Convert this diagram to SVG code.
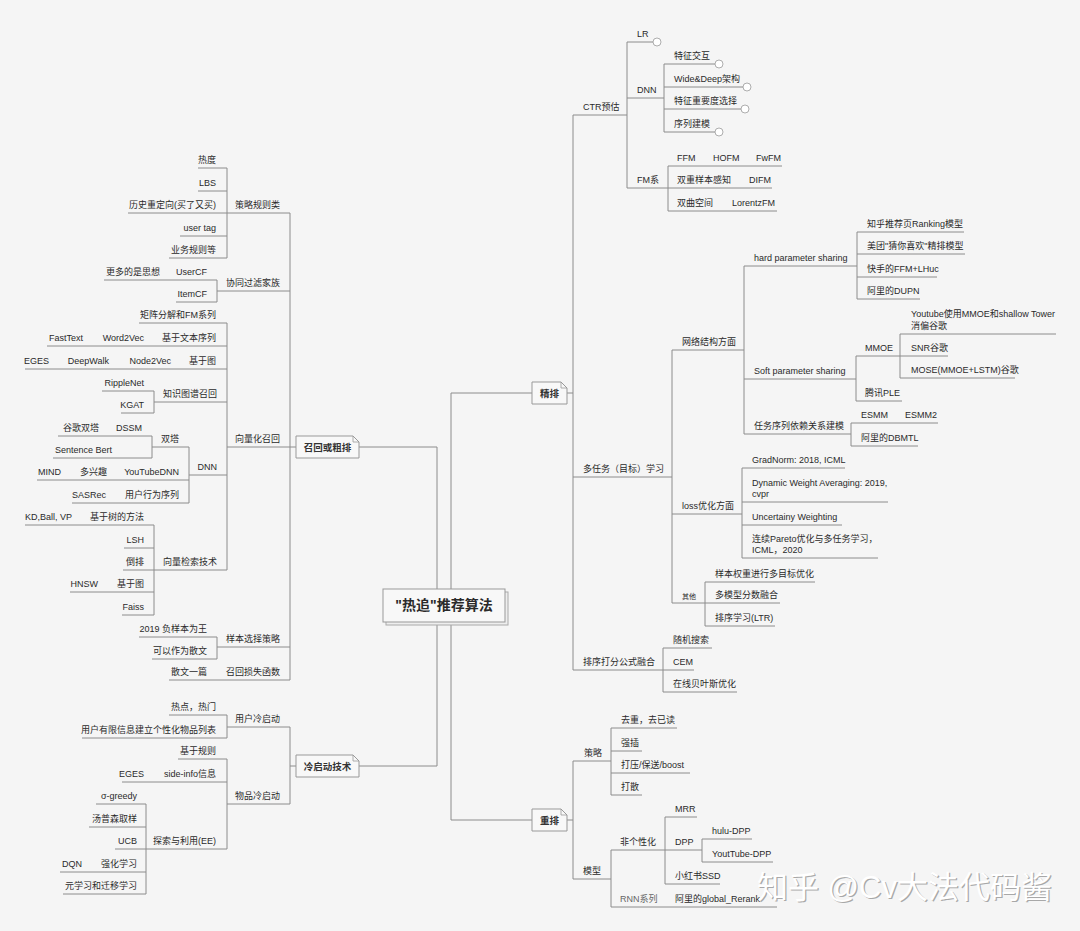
<svg xmlns="http://www.w3.org/2000/svg" width="1080" height="931" viewBox="0 0 1080 931">
<style>
text{font-family:"Liberation Sans","Noto Sans CJK SC",sans-serif;font-size:9px;fill:#2a2a2a}
.l{text-anchor:end}
.m{text-anchor:middle}
.ln{fill:none;stroke:#8c8c8c;stroke-width:1}
.box{fill:#f8f8f8;stroke:#999;stroke-width:1}
.fold{fill:none;stroke:#999;stroke-width:0.8}
.c{fill:#fff;stroke:#999;stroke-width:0.8}
.bt{font-size:9.5px;font-weight:bold;fill:#333}
.wm{font-size:31px;fill:#fff}
.wms{font-size:31px;fill:#a8a8a8}
</style>
<rect width="1080" height="931" fill="#f5f5f5"/>
<g id="connectors" class="ln">
<path d="M227,168V258M217,280V302M227,323V570M154,391V413M152,436V458M189,447V503M154,525V615M217,637V659M290,213V680M290,447H296M359,447H437V589"/>
<path d="M227,715V738M227,759V849M146,804V894M290,727V804M290,766H296M359,766H437V622"/>
<path d="M451,589V393H532M451,622V820H532M567,393H573M573,115V670M627,42V188M664,64V132M668,166V211M672,350V603M744,266V434M857,232V299M856,356V401M900,334V378M851,423V446M742,468V558M705,582V626M663,648V692"/>
<path d="M567,820H573M573,761V879M611,728V795M611,850V907M665,817V884M702,839V862"/>
</g>
<g id="root">
<rect x="386" y="592" width="122" height="33" fill="#eee" stroke="#aaa"/>
<rect x="383" y="589" width="122" height="33" class="box"/>
<text x="444" y="610" class="m" style="font-size:14px;font-weight:bold">"热追"推荐算法</text>
</g>
<g id="recall">
<path class="box" d="M296,436H353L359,442V458H296Z"/><path class="fold" d="M353,436V442H359"/>
<text x="327.5" y="450.5" class="m bt">召回或粗排</text>
</g>
<g id="coldstart">
<path class="box" d="M296,755H353L359,761V777H296Z"/><path class="fold" d="M353,755V761H359"/>
<text x="327.5" y="769.5" class="m bt">冷启动技术</text>
</g>
<g id="fine">
<path class="box" d="M532,382H561L567,388V404H532Z"/><path class="fold" d="M561,382V388H567"/>
<text x="549.5" y="396.5" class="m bt">精排</text>
</g>
<g id="rerank">
<path class="box" d="M532,809H561L567,815V831H532Z"/><path class="fold" d="M561,809V815H567"/>
<text x="549.5" y="823.5" class="m bt">重排</text>
</g>
<!-- left: recall -->
<g id="n-rule"><text x="280" y="208" class="l">策略规则类</text><path class="ln" d="M227,213H290"/></g>
<g id="n-hot"><text x="216" y="163" class="l">热度</text><path class="ln" d="M198,168H227"/></g>
<g id="n-lbs"><text x="216" y="186" class="l">LBS</text><path class="ln" d="M198,191H227"/></g>
<g id="n-hist"><text x="216" y="208" class="l">历史重定向(买了又买)</text><path class="ln" d="M128,213H227"/></g>
<g id="n-usertag"><text x="216" y="231" class="l">user tag</text><path class="ln" d="M180,236H227"/></g>
<g id="n-biz"><text x="216" y="253" class="l">业务规则等</text><path class="ln" d="M169,258H227"/></g>
<g id="n-cf"><text x="280" y="286" class="l">协同过滤家族</text><path class="ln" d="M217,291H290"/></g>
<g id="n-usercf"><text x="207" y="275" class="l">UserCF</text><path class="ln" d="M176,280H217"/></g>
<g id="n-idea"><text x="160" y="275" class="l">更多的是思想</text><path class="ln" d="M104,280H176"/></g>
<g id="n-itemcf"><text x="207" y="297" class="l">ItemCF</text><path class="ln" d="M176,302H217"/></g>
<g id="n-vec"><text x="280" y="442" class="l">向量化召回</text><path class="ln" d="M227,447H290"/></g>
<g id="n-mf"><text x="216" y="318" class="l">矩阵分解和FM系列</text><path class="ln" d="M139,323H227"/></g>
<g id="n-textseq"><text x="216" y="341" class="l">基于文本序列</text><path class="ln" d="M154,346H227"/></g>
<g id="n-w2v"><text x="144" y="341" class="l">Word2Vec</text><path class="ln" d="M93,346H154"/></g>
<g id="n-fasttext"><text x="83" y="341" class="l">FastText</text><path class="ln" d="M47,346H93"/></g>
<g id="n-graph1"><text x="216" y="364" class="l">基于图</text><path class="ln" d="M181,369H227"/></g>
<g id="n-n2v"><text x="171" y="364" class="l">Node2Vec</text><path class="ln" d="M119,369H181"/></g>
<g id="n-deepwalk"><text x="109" y="364" class="l">DeepWalk</text><path class="ln" d="M59,369H119"/></g>
<g id="n-eges1"><text x="49" y="364" class="l">EGES</text><path class="ln" d="M25,369H59"/></g>
<g id="n-kg"><text x="217" y="397" class="l">知识图谱召回</text><path class="ln" d="M154,402H227"/></g>
<g id="n-ripple"><text x="144" y="386" class="l">RippleNet</text><path class="ln" d="M102,391H154"/></g>
<g id="n-kgat"><text x="144" y="408" class="l">KGAT</text><path class="ln" d="M121,413H154"/></g>
<g id="n-dnn"><text x="217" y="470" class="l">DNN</text><path class="ln" d="M189,475H227"/></g>
<g id="n-twotower"><text x="179" y="442" class="l">双塔</text><path class="ln" d="M152,447H189"/></g>
<g id="n-dssm"><text x="142" y="431" class="l">DSSM</text><path class="ln" d="M108,436H152"/></g>
<g id="n-google"><text x="99" y="431" class="l">谷歌双塔</text><path class="ln" d="M58,436H108"/></g>
<g id="n-sbert"><text x="112" y="453" class="l">Sentence Bert</text><path class="ln" d="M53,458H152"/></g>
<g id="n-ytdnn"><text x="179" y="475" class="l">YouTubeDNN</text><path class="ln" d="M117,480H189"/></g>
<g id="n-multi"><text x="107" y="475" class="l">多兴趣</text><path class="ln" d="M72,480H117"/></g>
<g id="n-mind"><text x="61" y="475" class="l">MIND</text><path class="ln" d="M37,480H72"/></g>
<g id="n-behav"><text x="179" y="498" class="l">用户行为序列</text><path class="ln" d="M117,503H189"/></g>
<g id="n-sasrec"><text x="106" y="498" class="l">SASRec</text><path class="ln" d="M72,503H117"/></g>
<g id="n-search"><text x="217" y="565" class="l">向量检索技术</text><path class="ln" d="M154,570H227"/></g>
<g id="n-tree"><text x="144" y="520" class="l">基于树的方法</text><path class="ln" d="M82,525H154"/></g>
<g id="n-kd"><text x="72" y="520" class="l">KD,Ball, VP</text><path class="ln" d="M25,525H82"/></g>
<g id="n-lsh"><text x="144" y="543" class="l">LSH</text><path class="ln" d="M124,548H154"/></g>
<g id="n-inv"><text x="144" y="565" class="l">倒排</text><path class="ln" d="M123,570H154"/></g>
<g id="n-graph2"><text x="144" y="587" class="l">基于图</text><path class="ln" d="M108,592H154"/></g>
<g id="n-hnsw"><text x="98" y="587" class="l">HNSW</text><path class="ln" d="M70,592H108"/></g>
<g id="n-faiss"><text x="144" y="610" class="l">Faiss</text><path class="ln" d="M122,615H154"/></g>
<g id="n-sample"><text x="280" y="642" class="l">样本选择策略</text><path class="ln" d="M217,647H290"/></g>
<g id="n-neg"><text x="207" y="632" class="l">2019 负样本为王</text><path class="ln" d="M139,637H217"/></g>
<g id="n-essay"><text x="207" y="654" class="l">可以作为散文</text><path class="ln" d="M152,659H217"/></g>
<g id="n-loss"><text x="280" y="675" class="l">召回损失函数</text><path class="ln" d="M217,680H290"/></g>
<g id="n-essay2"><text x="207" y="675" class="l">散文一篇</text><path class="ln" d="M169,680H217"/></g>
<!-- left: cold start -->
<g id="n-usercold"><text x="280" y="722" class="l">用户冷启动</text><path class="ln" d="M227,727H290"/></g>
<g id="n-hotpt"><text x="216" y="710" class="l">热点，热门</text><path class="ln" d="M169,715H227"/></g>
<g id="n-limited"><text x="216" y="733" class="l">用户有限信息建立个性化物品列表</text><path class="ln" d="M82,738H227"/></g>
<g id="n-itemcold"><text x="280" y="799" class="l">物品冷启动</text><path class="ln" d="M227,804H290"/></g>
<g id="n-rules"><text x="216" y="754" class="l">基于规则</text><path class="ln" d="M178,759H227"/></g>
<g id="n-side"><text x="216" y="777" class="l">side-info信息</text><path class="ln" d="M154,782H227"/></g>
<g id="n-eges2"><text x="144" y="777" class="l">EGES</text><path class="ln" d="M122,782H154"/></g>
<g id="n-ee"><text x="216" y="844" class="l">探索与利用(EE)</text><path class="ln" d="M146,849H227"/></g>
<g id="n-greedy"><text x="137" y="799" class="l">σ-greedy</text><path class="ln" d="M96,804H146"/></g>
<g id="n-thompson"><text x="137" y="822" class="l">汤普森取样</text><path class="ln" d="M89,827H146"/></g>
<g id="n-ucb"><text x="137" y="844" class="l">UCB</text><path class="ln" d="M115,849H146"/></g>
<g id="n-rl"><text x="137" y="867" class="l">强化学习</text><path class="ln" d="M92,872H146"/></g>
<g id="n-dqn"><text x="82" y="867" class="l">DQN</text><path class="ln" d="M60,872H92"/></g>
<g id="n-meta"><text x="137" y="889" class="l">元学习和迁移学习</text><path class="ln" d="M63,894H146"/></g>
<!-- right: fine ranking -->
<g id="n-ctr"><text x="583" y="110">CTR预估</text><path class="ln" d="M573,115H627"/></g>
<g id="n-lr"><text x="637" y="37">LR</text><path class="ln" d="M627,42H653"/><circle class="c" cx="657" cy="42" r="4"/></g>
<g id="n-dnn2"><text x="637" y="93">DNN</text><path class="ln" d="M627,98H664"/></g>
<g id="n-fi"><text x="674" y="59">特征交互</text><path class="ln" d="M664,64H715"/><circle class="c" cx="719" cy="64" r="4"/></g>
<g id="n-wd"><text x="674" y="82">Wide&amp;Deep架构</text><path class="ln" d="M664,87H743"/><circle class="c" cx="747" cy="87" r="4"/></g>
<g id="n-fimp"><text x="674" y="104">特征重要度选择</text><path class="ln" d="M664,109H741"/><circle class="c" cx="745" cy="109" r="4"/></g>
<g id="n-seq"><text x="674" y="127">序列建模</text><path class="ln" d="M664,132H715"/><circle class="c" cx="719" cy="132" r="4"/></g>
<g id="n-fm"><text x="637" y="183">FM系</text><path class="ln" d="M627,188H668"/></g>
<g id="n-ffm"><text x="677" y="161">FFM</text><path class="ln" d="M668,166H703"/></g>
<g id="n-hofm"><text x="713" y="161">HOFM</text><path class="ln" d="M703,166H746"/></g>
<g id="n-fwfm"><text x="756" y="161">FwFM</text><path class="ln" d="M746,166H782"/></g>
<g id="n-dual"><text x="677" y="183">双重样本感知</text><path class="ln" d="M668,188H739"/></g>
<g id="n-difm"><text x="749" y="183">DIFM</text><path class="ln" d="M739,188H772"/></g>
<g id="n-hyper"><text x="677" y="206">双曲空间</text><path class="ln" d="M668,211H722"/></g>
<g id="n-lorentz"><text x="732" y="206">LorentzFM</text><path class="ln" d="M722,211H777"/></g>
<g id="n-mtl"><text x="583" y="472">多任务（目标）学习</text><path class="ln" d="M573,477H672"/></g>
<g id="n-net"><text x="682" y="345">网络结构方面</text><path class="ln" d="M672,350H744"/></g>
<g id="n-hard"><text x="754" y="261">hard parameter sharing</text><path class="ln" d="M744,266H857"/></g>
<g id="n-zhihu"><text x="867" y="227">知乎推荐页Ranking模型</text><path class="ln" d="M857,232H964"/></g>
<g id="n-meituan"><text x="867" y="249">美团"猜你喜欢"精排模型</text><path class="ln" d="M857,254H965"/></g>
<g id="n-kuaishou"><text x="867" y="272">快手的FFM+LHuc</text><path class="ln" d="M857,277H937"/></g>
<g id="n-dupn"><text x="867" y="294">阿里的DUPN</text><path class="ln" d="M857,299H920"/></g>
<g id="n-soft"><text x="754" y="374">Soft parameter sharing</text><path class="ln" d="M744,379H856"/></g>
<g id="n-mmoe"><text x="865" y="351">MMOE</text><path class="ln" d="M856,356H900"/></g>
<g id="n-yt"><text x="911" y="317">Youtube使用MMOE和shallow Tower</text><text x="911" y="329">消偏谷歌</text><path class="ln" d="M900,334H1056"/></g>
<g id="n-snr"><text x="911" y="351">SNR谷歌</text><path class="ln" d="M900,356H948"/></g>
<g id="n-mose"><text x="911" y="373">MOSE(MMOE+LSTM)谷歌</text><path class="ln" d="M900,378H1015"/></g>
<g id="n-ple"><text x="865" y="396">腾讯PLE</text><path class="ln" d="M856,401H902"/></g>
<g id="n-dep"><text x="754" y="429">任务序列依赖关系建模</text><path class="ln" d="M744,434H851"/></g>
<g id="n-esmm"><text x="861" y="418">ESMM</text><path class="ln" d="M851,423H895"/></g>
<g id="n-esmm2"><text x="905" y="418">ESMM2</text><path class="ln" d="M895,423H938"/></g>
<g id="n-dbmtl"><text x="861" y="441">阿里的DBMTL</text><path class="ln" d="M851,446H918"/></g>
<g id="n-lossopt"><text x="682" y="509">loss优化方面</text><path class="ln" d="M672,514H742"/></g>
<g id="n-gradnorm"><text x="752" y="463">GradNorm: 2018, ICML</text><path class="ln" d="M742,468H845"/></g>
<g id="n-dwa"><text x="752" y="485.5">Dynamic Weight Averaging: 2019,</text><text x="752" y="497">cvpr</text><path class="ln" d="M742,502H888"/></g>
<g id="n-unc"><text x="752" y="520">Uncertainy Weighting</text><path class="ln" d="M742,525H842"/></g>
<g id="n-pareto"><text x="752" y="541.5">连续Pareto优化与多任务学习，</text><text x="752" y="553">ICML，2020</text><path class="ln" d="M742,558H878"/></g>
<g id="n-other"><text x="682" y="599" style="font-size:7px">其他</text><path class="ln" d="M672,603H705"/></g>
<g id="n-weight"><text x="715" y="577">样本权重进行多目标优化</text><path class="ln" d="M705,582H815"/></g>
<g id="n-fuse"><text x="715" y="598">多模型分数融合</text><path class="ln" d="M705,603H780"/></g>
<g id="n-ltr"><text x="715" y="621">排序学习(LTR)</text><path class="ln" d="M705,626H775"/></g>
<g id="n-formula"><text x="583" y="665">排序打分公式融合</text><path class="ln" d="M573,670H663"/></g>
<g id="n-random"><text x="673" y="643">随机搜索</text><path class="ln" d="M663,648H712"/></g>
<g id="n-cem"><text x="673" y="665">CEM</text><path class="ln" d="M663,670H694"/></g>
<g id="n-bayes"><text x="673" y="687">在线贝叶斯优化</text><path class="ln" d="M663,692H737"/></g>
<!-- right: rerank -->
<g id="n-strategy"><text x="584" y="756">策略</text><path class="ln" d="M573,761H611"/></g>
<g id="n-dedup"><text x="621" y="723">去重，去已读</text><path class="ln" d="M611,728H677"/></g>
<g id="n-insert"><text x="621" y="746">强插</text><path class="ln" d="M611,751H642"/></g>
<g id="n-boost"><text x="621" y="768">打压/保送/boost</text><path class="ln" d="M611,773H690"/></g>
<g id="n-scatter"><text x="621" y="790">打散</text><path class="ln" d="M611,795H642"/></g>
<g id="n-model"><text x="583" y="874">模型</text><path class="ln" d="M573,879H611"/></g>
<g id="n-nonpers"><text x="620" y="845">非个性化</text><path class="ln" d="M611,850H665"/></g>
<g id="n-mrr"><text x="675" y="812">MRR</text><path class="ln" d="M665,817H697"/></g>
<g id="n-dpp"><text x="675" y="845">DPP</text><path class="ln" d="M665,850H702"/></g>
<g id="n-hulu"><text x="712" y="834">hulu-DPP</text><path class="ln" d="M702,839H752"/></g>
<g id="n-ytdpp"><text x="712" y="857">YoutTube-DPP</text><path class="ln" d="M702,862H773"/></g>
<g id="n-ssd"><text x="675" y="879">小红书SSD</text><path class="ln" d="M665,884H720"/></g>
<g id="n-rnn"><text x="620" y="902" style="fill:#666">RNN系列</text><path class="ln" d="M611,907H665"/></g>
<g id="n-global"><text x="675" y="902">阿里的global_Rerank</text><path class="ln" d="M665,907H777"/></g>
<g id="watermark">
<text x="758.2" y="899.2" class="wms">知乎 @Cv大法代码酱</text>
<text x="757" y="898" class="wm">知乎 @Cv大法代码酱</text>
</g>
</svg>
